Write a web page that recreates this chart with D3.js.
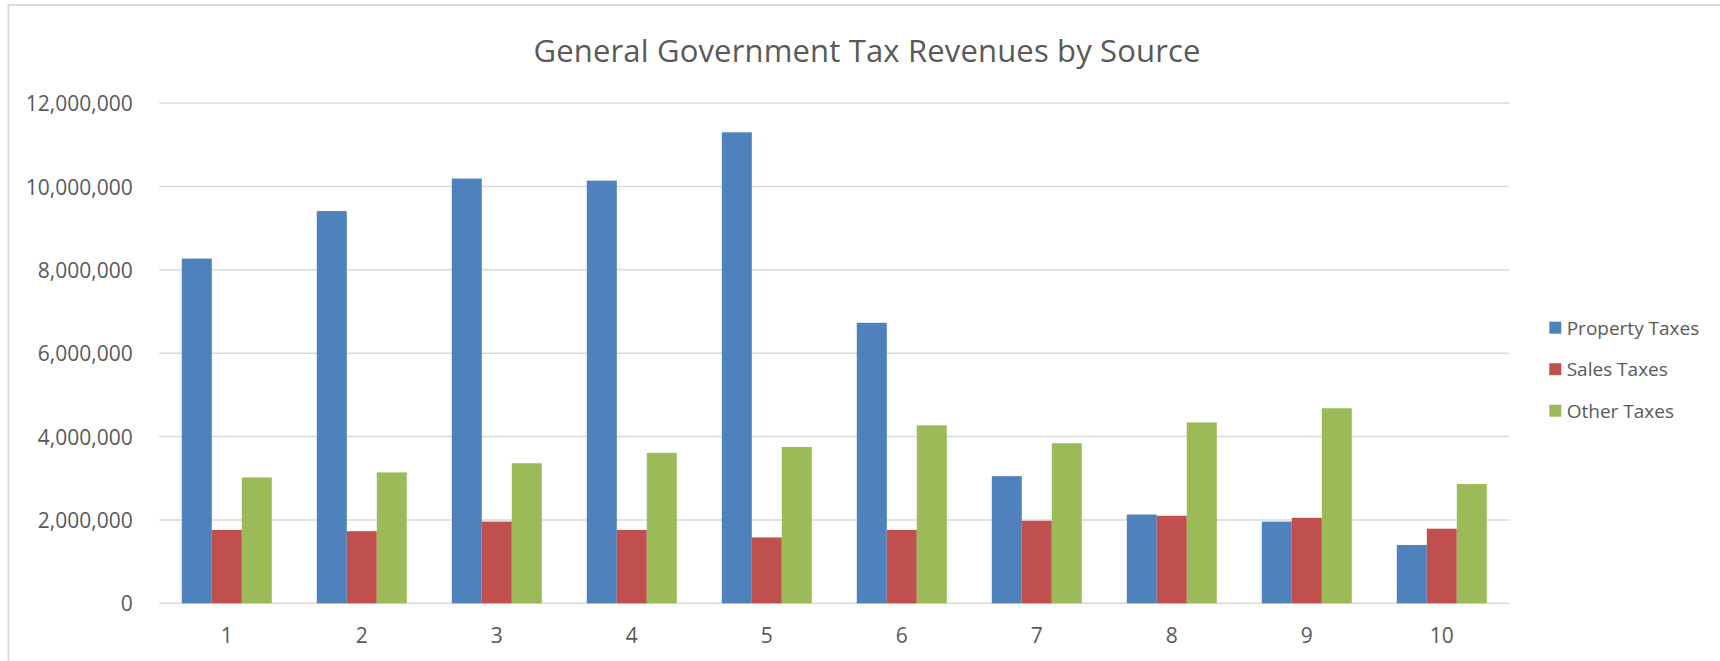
<!DOCTYPE html>
<html>
<head>
<meta charset="utf-8">
<script src="https://cdn.jsdelivr.net/npm/d3@7"></script>
<style>
  body { margin: 0; background: #fff; overflow: hidden; }
  svg { display: block; font-family: "Open Sans", sans-serif; }
  .axis text { fill: #595959; font-size: 21px; font-family: "Open Sans", sans-serif; }
  .legend text { fill: #595959; font-size: 19px; }
</style>
</head>
<body>
<svg id="chart" width="1720" height="661"></svg>
<script>
var categories = ["1", "2", "3", "4", "5", "6", "7", "8", "9", "10"];
var seriesNames = ["Property Taxes", "Sales Taxes", "Other Taxes"];
var propertyTaxes = [8270000, 9410000, 10190000, 10140000, 11300000, 6730000, 3050000, 2130000, 1960000, 1400000];
var salesTaxes = [1760000, 1730000, 1960000, 1760000, 1580000, 1760000, 1980000, 2100000, 2050000, 1790000];
var otherTaxes = [3020000, 3140000, 3360000, 3610000, 3750000, 4270000, 3840000, 4340000, 4680000, 2860000];
var yTicks = [0, 2000000, 4000000, 6000000, 8000000, 10000000, 12000000];
var colors = ["#4F81BD", "#C0504D", "#9BBB59"];

var series = [propertyTaxes, salesTaxes, otherTaxes];
var plot = {left: 159.3, right: 1509.3, top: 103.1, bottom: 603.3};

var svg = d3.select("#chart");

// chart frame (only top and left edges are inside the picture)
svg.append("path")
    .attr("d", "M8.5,661V5H1720")
    .attr("fill", "none")
    .attr("stroke", "#d9d9d9")
    .attr("stroke-width", 2);

svg.append("text")
    .attr("x", 867)
    .attr("y", 62.3)
    .attr("text-anchor", "middle")
    .attr("fill", "#595959")
    .attr("font-size", 31)
    .attr("textLength", 667)
    .attr("lengthAdjust", "spacing")
    .text("General Government Tax Revenues by Source");

var x0 = d3.scaleBand()
    .domain(categories)
    .range([plot.left, plot.right])
    .paddingInner(1 / 3)
    .paddingOuter(1 / 6);

var x1 = d3.scaleBand()
    .domain(d3.range(series.length))
    .range([0, x0.bandwidth()]);

var y = d3.scaleLinear()
    .domain([0, 12000000])
    .range([plot.bottom, plot.top]);

// gridlines
svg.append("g")
    .selectAll("line")
    .data(yTicks)
  .enter().append("line")
    .attr("x1", plot.left)
    .attr("x2", plot.right)
    .attr("y1", function(d) { return y(d); })
    .attr("y2", function(d) { return y(d); })
    .attr("stroke", "#d9d9d9")
    .attr("stroke-width", 1.5);

var yAxis = d3.axisLeft(y)
    .tickValues(yTicks)
    .tickFormat(d3.format(","))
    .tickSize(0)
    .tickPadding(0);

svg.append("g")
    .attr("class", "axis axis--y")
    .attr("transform", "translate(" + 132.7 + ",0)")
    .call(yAxis)
    .attr("font-family", null)
    .attr("font-size", null)
    .call(function(g) { g.select(".domain").remove(); })
    .selectAll("text")
    .attr("x", 0)
    .attr("dy", "0.36em");

var xAxis = d3.axisBottom(x0)
    .tickSize(0)
    .tickPadding(0);

svg.append("g")
    .attr("class", "axis axis--x")
    .attr("transform", "translate(0," + plot.bottom + ")")
    .call(xAxis)
    .attr("font-family", null)
    .attr("font-size", null)
    .call(function(g) { g.select(".domain").remove(); })
    .selectAll("text")
    .attr("y", 40)
    .attr("dy", 0);

var groups = svg.append("g")
    .selectAll("g")
    .data(categories)
  .enter().append("g")
    .attr("transform", function(d) { return "translate(" + x0(d) + ",0)"; });

groups.selectAll("rect")
    .data(function(d, i) {
      return series.map(function(s, k) { return {k: k, value: s[i]}; });
    })
  .enter().append("rect")
    .attr("x", function(d) { return x1(d.k); })
    .attr("width", x1.bandwidth())
    .attr("y", function(d) { return y(d.value); })
    .attr("height", function(d) { return plot.bottom - y(d.value); })
    .attr("fill", function(d) { return colors[d.k]; });

// legend
var legend = svg.append("g")
    .attr("class", "legend")
    .selectAll("g")
    .data(seriesNames)
  .enter().append("g")
    .attr("transform", function(d, i) { return "translate(1549.3," + (327.7 + i * 41.5) + ")"; });

legend.append("rect")
    .attr("y", -6)
    .attr("width", 12)
    .attr("height", 12)
    .attr("fill", function(d, i) { return colors[i]; });

legend.append("text")
    .attr("x", 17.4)
    .attr("dy", "0.36em")
    .text(function(d) { return d; });
</script>
</body>
</html>
